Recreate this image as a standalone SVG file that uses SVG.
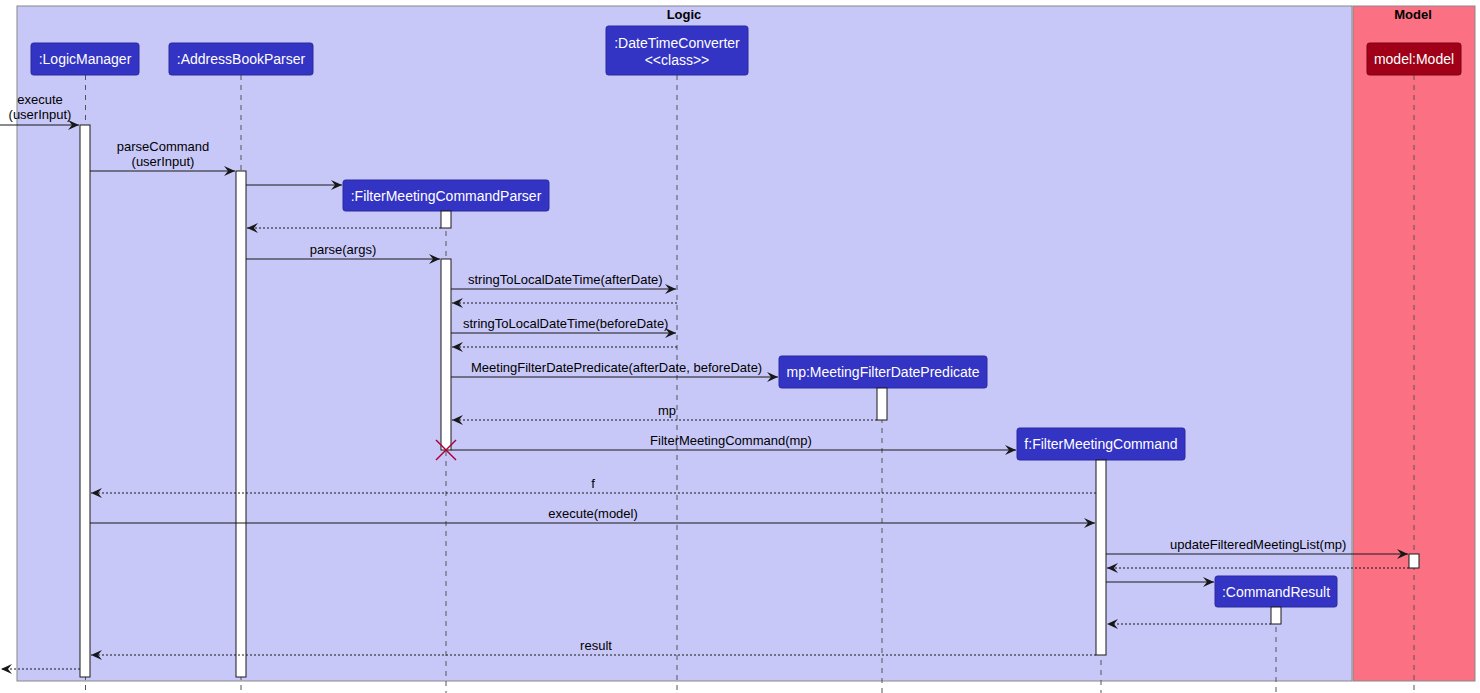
<svg xmlns="http://www.w3.org/2000/svg" width="1480" height="693" viewBox="0 0 1480 693">
<defs>
<style>
.box{stroke:#888;stroke-width:1}
.part{fill:#3333C4;stroke:#2a2aa0;stroke-width:1}
.ptxt{font-family:"Liberation Sans",Arial,sans-serif;font-size:14px;fill:#fff;text-anchor:middle}
.title{font-family:"Liberation Sans",Arial,sans-serif;font-size:13px;font-weight:bold;fill:#000;text-anchor:middle}
.life{stroke:#555;stroke-width:1;stroke-dasharray:5,5}
.act{fill:#fff;stroke:#181818;stroke-width:1}
.msg{stroke:#181818;stroke-width:1;fill:none}
.ret{stroke:#181818;stroke-width:1;fill:none;stroke-dasharray:2,2}
.lbl{font-family:"Liberation Sans",Arial,sans-serif;font-size:13px;fill:#000}
.c{text-anchor:middle}
</style>
<marker id="ah" markerWidth="12" markerHeight="10" refX="11" refY="5" orient="auto" markerUnits="userSpaceOnUse">
<path d="M0,0 L11,5 L0,10 L4,5 Z" fill="#181818"/>
</marker>
</defs>
<rect width="1480" height="693" fill="#fff"/>
<g id="logic-box">
<rect class="box" x="17" y="6" width="1335" height="675" fill="#C8C8F8"/>
<text class="title" x="684" y="19">Logic</text>
</g>
<g id="model-box">
<rect class="box" x="1353" y="6" width="122" height="675" fill="#FB7183"/>
<text class="title" x="1413" y="19">Model</text>
</g>
<g id="lifelines">
<line class="life" x1="85.5" y1="75" x2="85.5" y2="693"/>
<line class="life" x1="241" y1="75" x2="241" y2="693"/>
<line class="life" x1="677" y1="75" x2="677" y2="693"/>
<line class="life" x1="446" y1="211" x2="446" y2="693"/>
<line class="life" x1="882" y1="388" x2="882" y2="693"/>
<line class="life" x1="1101" y1="460" x2="1101" y2="693"/>
<line class="life" x1="1276" y1="607" x2="1276" y2="693"/>
<line class="life" x1="1414" y1="75" x2="1414" y2="693"/>
</g>
<g id="LogicManager">
<rect class="part" x="31" y="43" width="108" height="32" rx="2.5"/>
<text class="ptxt" x="85" y="64">:LogicManager</text>
</g>
<g id="AddressBookParser">
<rect class="part" x="169" y="43" width="144" height="32" rx="2.5"/>
<text class="ptxt" x="241" y="64">:AddressBookParser</text>
</g>
<g id="DateTimeConverter">
<rect class="part" x="606" y="26" width="142" height="49" rx="2.5"/>
<text class="ptxt" x="677" y="48">:DateTimeConverter</text>
<text class="ptxt" x="677" y="65">&lt;&lt;class&gt;&gt;</text>
</g>
<g id="FilterMeetingCommandParser">
<rect class="part" x="343" y="180" width="206" height="31" rx="2.5"/>
<text class="ptxt" x="446" y="201">:FilterMeetingCommandParser</text>
</g>
<g id="MeetingFilterDatePredicate">
<rect class="part" x="779" y="356" width="208" height="32" rx="2.5"/>
<text class="ptxt" x="883" y="377">mp:MeetingFilterDatePredicate</text>
</g>
<g id="FilterMeetingCommand">
<rect class="part" x="1017" y="428" width="168" height="32" rx="2.5"/>
<text class="ptxt" x="1101" y="449">f:FilterMeetingCommand</text>
</g>
<g id="CommandResult">
<rect class="part" x="1215" y="576" width="122" height="31" rx="2.5"/>
<text class="ptxt" x="1276" y="597">:CommandResult</text>
</g>
<g id="Model">
<rect x="1367" y="43" width="94" height="32" rx="2.5" fill="#A00018" stroke="#7a0012"/>
<text class="ptxt" x="1414" y="64">model:Model</text>
</g>
<g id="activations">
<rect class="act" x="80" y="125" width="10" height="552"/>
<rect class="act" x="236" y="171" width="10" height="506"/>
<rect class="act" x="441" y="211" width="10" height="17"/>
<rect class="act" x="441" y="259" width="10" height="191"/>
<rect class="act" x="877" y="388" width="10" height="32"/>
<rect class="act" x="1096" y="460" width="10" height="195"/>
<rect class="act" x="1409" y="554" width="10" height="14"/>
<rect class="act" x="1271" y="607" width="10" height="17"/>
</g>
<g id="connectors">
<line class="msg" x1="0" y1="125" x2="79" y2="125" marker-end="url(#ah)"/>
<text class="lbl c" x="40" y="104">execute</text>
<text class="lbl c" x="40" y="119">(userInput)</text>
<line class="msg" x1="90" y1="171" x2="235" y2="171" marker-end="url(#ah)"/>
<text class="lbl c" x="163" y="151">parseCommand</text>
<text class="lbl c" x="163" y="166">(userInput)</text>
<line class="msg" x1="246" y1="185" x2="342" y2="185" marker-end="url(#ah)"/>
<line class="ret" x1="441" y1="228" x2="247" y2="228" marker-end="url(#ah)"/>
<line class="msg" x1="246" y1="259" x2="440" y2="259" marker-end="url(#ah)"/>
<text class="lbl c" x="343" y="254">parse(args)</text>
<line class="msg" x1="451" y1="289" x2="676" y2="289" marker-end="url(#ah)"/>
<text class="lbl" x="468" y="284">stringToLocalDateTime(afterDate)</text>
<line class="ret" x1="677" y1="303" x2="452" y2="303" marker-end="url(#ah)"/>
<line class="msg" x1="451" y1="333" x2="676" y2="333" marker-end="url(#ah)"/>
<text class="lbl" x="463" y="328">stringToLocalDateTime(beforeDate)</text>
<line class="ret" x1="677" y1="347" x2="452" y2="347" marker-end="url(#ah)"/>
<line class="msg" x1="451" y1="377" x2="778" y2="377" marker-end="url(#ah)"/>
<text class="lbl" x="471" y="372">MeetingFilterDatePredicate(afterDate, beforeDate)</text>
<line class="ret" x1="877" y1="420" x2="452" y2="420" marker-end="url(#ah)"/>
<text class="lbl" x="676" y="415" text-anchor="end">mp</text>
<line class="msg" x1="451" y1="450" x2="1016" y2="450" marker-end="url(#ah)"/>
<text class="lbl c" x="731" y="445">FilterMeetingCommand(mp)</text>
<g stroke="#A80036" stroke-width="1.5"><line x1="436" y1="440" x2="456" y2="460"/><line x1="456" y1="440" x2="436" y2="460"/></g>
<line class="ret" x1="1096" y1="493" x2="91" y2="493" marker-end="url(#ah)"/>
<text class="lbl c" x="593" y="488">f</text>
<line class="msg" x1="90" y1="523" x2="1095" y2="523" marker-end="url(#ah)"/>
<text class="lbl c" x="593" y="518">execute(model)</text>
<line class="msg" x1="1106" y1="554" x2="1408" y2="554" marker-end="url(#ah)"/>
<text class="lbl" x="1170" y="549">updateFilteredMeetingList(mp)</text>
<line class="ret" x1="1409" y1="568" x2="1107" y2="568" marker-end="url(#ah)"/>
<line class="msg" x1="1106" y1="582" x2="1214" y2="582" marker-end="url(#ah)"/>
<line class="ret" x1="1271" y1="624" x2="1107" y2="624" marker-end="url(#ah)"/>
<line class="ret" x1="1096" y1="655" x2="91" y2="655" marker-end="url(#ah)"/>
<text class="lbl c" x="596" y="650">result</text>
<line class="ret" x1="80" y1="669" x2="1" y2="669" marker-end="url(#ah)"/>
</g>
</svg>
